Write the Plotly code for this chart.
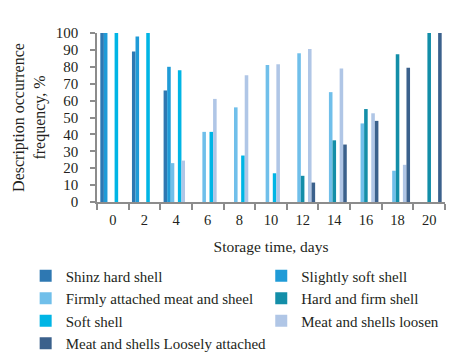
import plotly.graph_objects as go

categories = ["0", "2", "4", "6", "8", "10", "12", "14", "16", "18", "20"]

shinz_hard = [100, 89, 66, None, None, None, None, None, None, None, None]
slightly_soft = [100, 98, 80, None, None, None, None, None, None, None, None]
firmly_attached = [None, None, 23, 41.5, 56, 81, 88, 65, 46.5, 18.5, None]
hard_firm = [None, None, None, None, None, None, 15.5, 36.5, 55, 87.5, 100]
soft_shell = [100, 100, 78, 41.5, 27.5, 17, None, None, None, None, None]
meat_loosen = [None, None, 24.5, 61, 75, 81.5, 90.5, 79, 52.5, 22, None]
loosely_attached = [None, None, None, None, None, None, 11.5, 34, 48, 79.5, 100]

series = [
    ("Shinz hard shell", shinz_hard, "#2e78b2", "legend"),
    ("Slightly soft shell", slightly_soft, "#1f9bd7", "legend2"),
    ("Firmly attached meat and sheel", firmly_attached, "#70bfea", "legend"),
    ("Hard and firm shell", hard_firm, "#138ea8", "legend2"),
    ("Soft shell", soft_shell, "#00b5e5", "legend"),
    ("Meat and shells loosen", meat_loosen, "#b0c6e6", "legend2"),
    ("Meat and shells Loosely attached", loosely_attached, "#3b618c", "legend"),
]

fig = go.Figure()
for name, vals, color, leg in series:
    fig.add_trace(go.Bar(name=name, x=categories, y=vals, marker_color=color,
                         marker_line_width=0, legend=leg))

font_family = "Liberation Serif, Times New Roman, serif"
text_color = "#231f20"
axis_color = "#8c8c8c"
legend_font = dict(family=font_family, size=15, color=text_color)

fig.update_layout(
    width=460, height=364,
    margin=dict(l=89, r=23, t=25, b=163),
    paper_bgcolor="white", plot_bgcolor="white",
    barmode="group", bargap=0.21, bargroupgap=0,
    font=dict(family=font_family, size=15, color=text_color),
    showlegend=True,
    legend=dict(orientation="v", x=-0.205, xanchor="left", y=-0.34, yanchor="top",
                font=legend_font, itemwidth=30, traceorder="normal",
                bgcolor="rgba(0,0,0,0)"),
    legend2=dict(orientation="v", x=0.472, xanchor="left", y=-0.34, yanchor="top",
                 font=legend_font, itemwidth=30, traceorder="normal",
                 bgcolor="rgba(0,0,0,0)"),
    xaxis=dict(type="category", showline=True, linecolor=axis_color, linewidth=1.5,
               ticks="outside", tickson="boundaries", ticklen=6, tickcolor=axis_color,
               tickwidth=1.5, showgrid=False, ticklabelstandoff=4, automargin=False,
               tickfont=dict(family=font_family, size=14.5, color=text_color),
               title=dict(text="Storage time, days", standoff=14,
                          font=dict(family=font_family, size=15.5, color=text_color))),
    yaxis=dict(range=[0, 100], dtick=10, showline=True, linecolor=axis_color, linewidth=1.5,
               ticks="outside", ticklen=5, tickcolor=axis_color, tickwidth=1.5,
               ticklabelstandoff=9, automargin=False,
               tickfont=dict(family=font_family, size=15, color=text_color),
               showgrid=False, zeroline=False,
               title=dict(text="Description occurrence<br>frequency, %", standoff=6,
                          font=dict(family=font_family, size=16, color=text_color))),
)

fig.write_html("out.html")
